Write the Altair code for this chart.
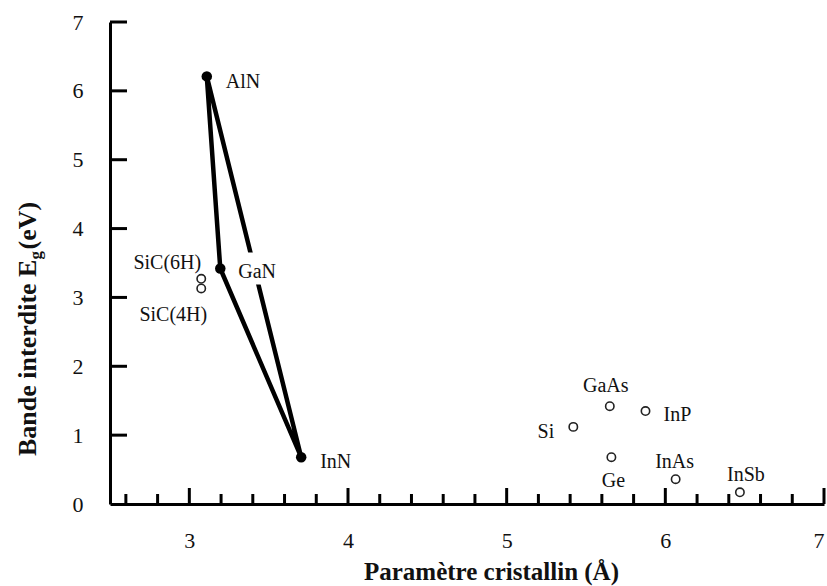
import altair as alt
import pandas as pd

# ---------------- data ----------------
filled_names = ["AlN", "GaN", "InN"]
filled_a = [3.11, 3.195, 3.705]
filled_eg = [6.21, 3.42, 0.68]

open_names = ["SiC(6H)", "SiC(4H)", "Si", "GaAs", "InP", "Ge", "InAs", "InSb"]
open_a = [3.075, 3.075, 5.42, 5.65, 5.875, 5.66, 6.065, 6.47]
open_eg = [3.27, 3.13, 1.12, 1.42, 1.35, 0.68, 0.36, 0.17]

triangle_path = ["AlN", "GaN", "InN", "AlN"]

x_major = [3, 4, 5, 6, 7]
x_minor = [2.6, 2.8, 3.2, 3.4, 3.6, 3.8, 4.2, 4.4, 4.6, 4.8,
           5.2, 5.4, 5.6, 5.8, 6.2, 6.4, 6.6, 6.8]
y_major = [1, 2, 3, 4, 5, 6, 7]
y_labels = [0, 1, 2, 3, 4, 5, 6, 7]

x_title = "Paramètre cristallin (Å)"
y_title_main = "Bande interdite E"
y_title_sub = "g"
y_title_unit = "(eV)"

# ---------------- tables ----------------
filled_df = pd.DataFrame({"name": filled_names, "a": filled_a, "eg": filled_eg})
open_df = pd.DataFrame({"name": open_names, "a": open_a, "eg": open_eg})
lookup = dict(zip(filled_names, zip(filled_a, filled_eg)))
tri_df = pd.DataFrame({
    "order": list(range(len(triangle_path))),
    "a": [lookup[n][0] for n in triangle_path],
    "eg": [lookup[n][1] for n in triangle_path],
})
all_df = pd.concat([filled_df, open_df], ignore_index=True)

FONT = "Liberation Serif"
INK = "#111111"

xscale = alt.Scale(domain=[2.5, 7.0], nice=False, zero=False)
yscale = alt.Scale(domain=[0, 7], nice=False, zero=False)

X = alt.X("a:Q", scale=xscale, axis=alt.Axis(
    values=x_major, format="d", ticks=False, tickSize=0, grid=False,
    labelFont=FONT, labelFontSize=22, labelColor=INK, labelPadding=26,
    labelFlush=True,
    domainColor="black", domainWidth=3,
    title=x_title, titleFont=FONT, titleFontSize=25, titleFontWeight="bold",
    titleColor=INK, titleX=381, titleY=75, titleBaseline="alphabetic",
    titleAlign="center"))
Y = alt.Y("eg:Q", scale=yscale, axis=alt.Axis(
    values=y_labels, format="d", ticks=False, tickSize=0, grid=False,
    labelFont=FONT, labelFontSize=22, labelColor=INK, labelPadding=27,
    domainColor="black", domainWidth=3, title=None))

lines = alt.Chart(tri_df).mark_line(
    color="black", strokeWidth=4.5, strokeJoin="round", strokeCap="round"
).encode(x=X, y=Y, order="order:Q")

# white patch interrupting the AlN-InN line behind the GaN label
gan_df = filled_df[filled_df.name == "GaN"]
patch = alt.Chart(gan_df).mark_square(
    color="white", filled=True, opacity=1, size=1024, xOffset=35
).encode(x="a:Q", y="eg:Q")

filled_pts = alt.Chart(filled_df).mark_point(
    shape="circle", filled=True, color="black", opacity=1, size=110
).encode(x="a:Q", y="eg:Q")

open_pts = alt.Chart(open_df).mark_point(
    shape="circle", filled=False, color="#222222", opacity=1, size=70,
    strokeWidth=1.6
).encode(x="a:Q", y="eg:Q")

# label placement: (align, dx, dy)
label_style = {
    "AlN": ("left", 19, 6),
    "GaN": ("left", 18, 3),
    "InN": ("left", 19, 5),
    "SiC(6H)": ("right", 0, -16),
    "SiC(4H)": ("right", 6, 27),
    "Si": ("right", -19, 5),
    "GaAs": ("center", -4, -20),
    "InP": ("left", 18, 4),
    "Ge": ("center", 2, 24),
    "InAs": ("center", -1, -17),
    "InSb": ("center", 6, -17),
}
label_layers = []
for name, (align, dx, dy) in label_style.items():
    sub = all_df[all_df.name == name]
    label_layers.append(
        alt.Chart(sub).mark_text(
            align=align, baseline="middle", dx=dx, dy=dy,
            font=FONT, fontSize=20, color=INK
        ).encode(x="a:Q", y="eg:Q", text="name:N")
    )

xmaj = alt.Chart(pd.DataFrame({"t": x_major})).mark_tick(
    orient="vertical", size=16, thickness=3, yOffset=-8, color="black", opacity=1
).encode(x="t:Q", y=alt.datum(0))
xmin = alt.Chart(pd.DataFrame({"t": x_minor})).mark_tick(
    orient="vertical", size=10, thickness=3, yOffset=-5, color="black", opacity=1
).encode(x="t:Q", y=alt.datum(0))
ymaj = alt.Chart(pd.DataFrame({"t": y_major})).mark_tick(
    orient="horizontal", size=17, thickness=3, xOffset=8.5, color="black", opacity=1
).encode(y="t:Q", x=alt.datum(2.5))

# y-axis title with subscript g
def title_part(txt, x, y, size):
    return alt.Chart(pd.DataFrame({"t": [txt]})).mark_text(
        angle=270, align="left", baseline="alphabetic", font=FONT,
        fontSize=size, fontWeight="bold", color=INK
    ).encode(x=alt.value(x), y=alt.value(y), text="t:N")

ytitle = (title_part(y_title_main, -74, 434, 26)
          + title_part(y_title_sub, -69, 237.5, 17)
          + title_part(y_title_unit, -74, 227.5, 26))

chart = alt.layer(
    lines, patch, filled_pts, open_pts, *label_layers, xmaj, xmin, ymaj, ytitle
).properties(
    width=714, height=482,
    autosize=alt.AutoSizeParams(type="none"),
    padding={"left": 110, "top": 22, "right": 3, "bottom": 82},
    background="white",
).configure_view(stroke=None)

chart.save("out.html", embed_options={"renderer": "svg", "actions": False})
